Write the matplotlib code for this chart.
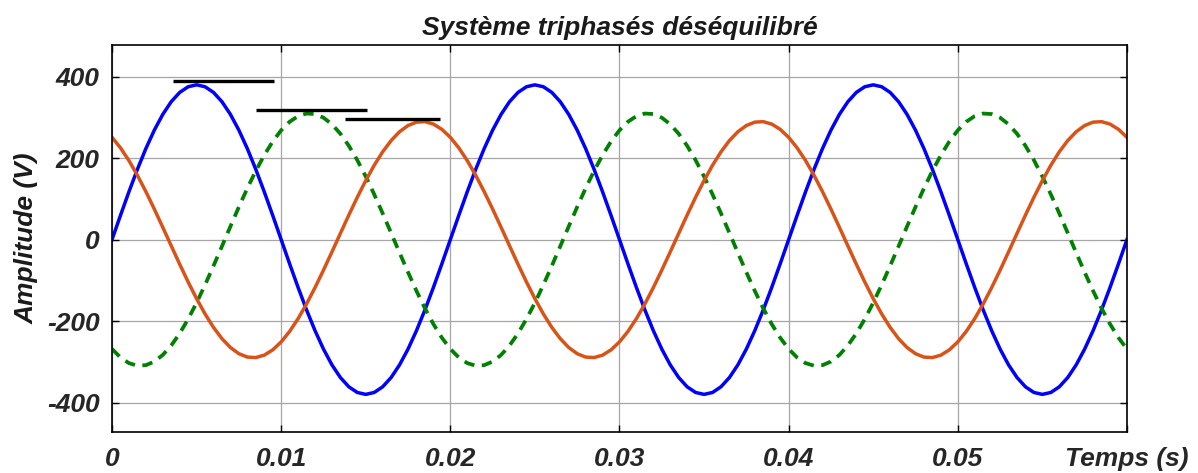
import numpy as np
import matplotlib.pyplot as plt

plt.rcParams['axes.unicode_minus'] = False

# signal parameters (50 Hz, unbalanced three-phase)
freq = 50.0
amplitudes = [380, 310, 290]           # phase a (blue), b (green), c (orange)
phases_deg = [0, -120, 120]
colors = ['#0000FF', '#008000', '#D95319']
styles = ['-', '--', '-']

# black peak markers: (t start, t end, level)
peak_t0 = [0.0036, 0.0085, 0.0138]
peak_t1 = [0.0096, 0.0151, 0.0194]
peak_val = [389, 319, 297]

t = np.arange(0, 0.0601, 0.0005)

fig = plt.figure(figsize=(11.98, 4.73), dpi=100)
ax = fig.add_axes([0.0935, 0.087, 0.8472, 0.818])

for A, ph, c, ls in zip(amplitudes, phases_deg, colors, styles):
    y = A * np.sin(2 * np.pi * freq * t + np.deg2rad(ph))
    if ls == '--':
        ax.plot(t, y, color=c, lw=2.7, dashes=(2.8, 2.0))
    else:
        ax.plot(t, y, color=c, lw=2.5)

for x0, x1, v in zip(peak_t0, peak_t1, peak_val):
    ax.plot([x0, x1], [v, v], color='black', lw=2.4, solid_capstyle='butt')

ax.set_xlim(0, 0.06)
ax.set_ylim(-472, 478)
ax.set_xticks([0, 0.01, 0.02, 0.03, 0.04, 0.05, 0.06])
ax.set_xticklabels(['0', '0.01', '0.02', '0.03', '0.04', '0.05', 'Temps (s)'])
ax.set_yticks([-400, -200, 0, 200, 400])

fsize = 19
for lab in ax.get_xticklabels() + ax.get_yticklabels():
    lab.set_fontfamily('Liberation Sans')
    lab.set_fontweight('bold')
    lab.set_fontstyle('italic')
    lab.set_fontsize(fsize)
    lab.set_color('#262626')

ax.grid(True, color='#a6a6a6', lw=0.9)
ax.tick_params(direction='in', length=5, width=1, top=True, right=True)
ax.tick_params(axis='x', pad=11)
ax.tick_params(axis='y', pad=9)
for s in ax.spines.values():
    s.set_linewidth(1.2)

font = dict(family='Liberation Sans', weight='bold', style='italic', size=fsize)
ax.set_ylabel('Amplitude (V)', fontdict=font, color='#1a1a1a', labelpad=6)
ax.set_title('Système triphasés déséquilibré', fontdict=font, color='#1a1a1a', pad=7)

fig.savefig('out.png', dpi=100)
